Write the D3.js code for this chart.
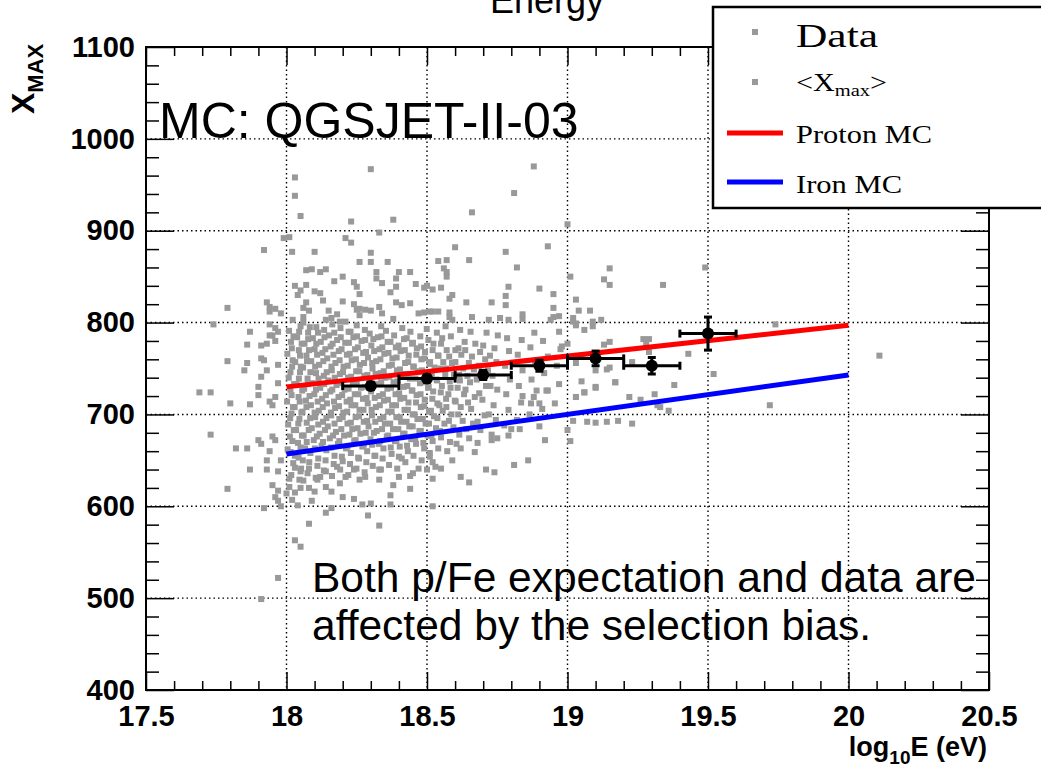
<!DOCTYPE html>
<html>
<head>
<meta charset="utf-8">
<script src="https://cdn.jsdelivr.net/npm/d3@7"></script>
<style>
  body { margin: 0; background: #fff; }
  svg { display: block; }
</style>
</head>
<body>
<div id="chart"></div>
<script>
// scattered events
const sparsePoints = [
  [18.03,958],[18.03,938],[18.05,916],[18.30,967],[18.23,910],[18.38,912],[18.33,898],[17.99,892],[18.01,893],
  [18.21,892],[18.23,887],[17.92,879],[18.02,877],[18.10,877],[18.30,876],[18.26,866],[18.30,866],[18.36,866],
  [18.07,857],[18.09,858],[18.12,855],[18.14,858],[18.32,855],[18.40,855],[18.44,855],[18.20,850],[18.17,845],
  [18.32,848],[18.34,843],[18.39,848],[18.24,844],[18.25,839],[18.26,831],[18.03,840],[18.07,841],[18.04,830],
  [18.05,835],[18.10,834],[18.12,832],[18.37,833],[18.39,839],[18.46,842],[18.49,838],[18.50,840],[17.79,816],
  [17.93,822],[17.94,817],[17.94,812],[17.96,815],[17.98,810],[18.07,822],[18.06,816],[18.08,813],[18.06,806],
  [18.13,824],[18.15,813],[18.14,803],[18.20,823],[18.18,809],[18.16,805],[18.19,801],[18.21,801],
  [18.24,820],[18.25,814],[18.26,808],[18.26,815],[18.28,814],[18.30,813],[18.33,817],[18.34,810],[18.38,804],
  [18.39,822],[18.41,819],[18.44,821],[18.47,810],[18.49,811],[18.52,812],[18.54,812],[17.74,798],
  [18.88,970],[18.81,941],[18.66,920],[19.00,907],[18.60,882],[18.93,883],[18.78,877],[18.54,867],[18.57,868],
  [18.65,868],[18.82,860],[18.56,859],[18.57,855],[18.57,850],[19.15,859],[19.01,850],[19.13,847],[19.15,841],
  [19.34,841],[18.52,836],[18.55,838],[18.59,830],[18.58,826],[18.79,839],[18.90,837],[18.95,831],[18.78,829],
  [18.78,819],[18.64,822],[18.73,822],[19.03,825],[19.04,813],[19.08,813],[18.95,816],[18.51,812],[18.58,811],
  [18.58,806],[18.59,803],[18.66,806],[18.72,803],[18.76,805],[18.79,803],[18.84,809],[18.84,804],[18.94,803],
  [18.95,806],[18.97,807],[19.02,805],[19.03,799],[19.06,792],[19.09,801],[19.12,803],[19.09,796],
  [19.49,860],[19.74,798],[19.43,766],[19.52,744],[20.11,764],[19.72,710],
  [19.02,801],[19.03,797],[18.97,790],[19.00,777],[18.98,774],[19.13,776],[19.15,779],[19.27,782],[19.29,782],
  [19.28,777],[19.29,768],[19.03,756],[19.10,748],[19.14,749],[19.15,751],[19.23,757],[19.17,735],[19.10,729],
  [19.03,719],[19.06,724],[19.05,736],[19.22,719],[19.26,716],[19.31,722],[19.38,732],[19.33,708],[19.36,704],
  [19.02,693],[19.07,692],[19.10,691],[19.14,692],[19.18,693],[19.23,690],[19.00,683],[19.01,671],[18.92,672],
  [18.86,650],[18.81,645],[18.74,637],[18.71,640],[18.65,626],[18.62,632],[18.55,641],[18.52,648],[18.59,650],
  [18.52,630],[18.52,600],[18.67,659],[18.62,663],[18.68,669],[18.73,672],[18.75,674],[18.79,677],[18.83,684],
  [18.80,684],[18.90,687],[18.87,712],[18.90,712],[18.89,726],[18.93,726],[18.84,720],[19.03,719],[19.06,724],
  [19.10,730],[19.17,735],[19.32,710],
  [17.69,724],[17.73,724],[17.80,712],[17.87,711],[17.90,721],[17.90,730],[17.73,678],[17.82,663],[17.86,663],
  [17.90,672],[17.91,668],[17.94,660],[17.96,672],[17.95,676],[17.93,650],[17.98,650],[17.87,640],[17.93,640],
  [17.97,638],[17.79,619],[17.95,623],[17.97,617],[17.96,610],[17.97,606],[17.98,600],[17.92,598],[17.94,714],
  [17.95,710],[17.96,719],[17.97,734],[17.87,790],[17.86,776],[17.91,775],[17.91,761],[17.93,777],[17.79,758],
  [17.86,756],[17.85,748],[17.94,798],[17.96,794],[17.95,786],[17.97,790],[17.96,780],[17.94,786],[17.92,759],
  [17.97,754],[17.93,748],[17.91,741],
  [18.01,621],[18.03,615],[18.00,614],[18.05,620],[18.08,620],[18.10,616],[18.14,621],[18.16,616],[18.20,610],
  [18.24,608],[18.27,602],[18.30,603],[18.29,590],[18.37,612],[18.37,602],[18.38,623],[18.44,619],[18.47,641],
  [18.44,633],[18.41,652],[18.08,581],[18.14,593],[18.16,598],[18.33,579],[18.03,563],[18.05,556],[17.97,522],
  [17.91,499],[18.05,638],[18.08,641],[18.11,629],[18.12,632],[18.14,638],[18.18,643],[18.21,632],[18.24,640],
  [18.19,625],[18.26,629],[18.28,632],[18.33,629],[18.33,640],[18.40,632],[18.45,636],[18.50,640],[18.53,643],
  [18.51,654],[18.02,607],[18.04,601],[18.01,630],[18.06,628],[18.03,642],[18.09,606]
];

// dense core of the cloud, where squares overlap: estimated
const densePoints = [
  [18.004,662],[18.012,676],[18.006,689],[18.018,701],[18.002,714],[18.014,727],[18.008,740],[18.02,752],[18.003,766],[18.016,779],[18.009,791],[18.022,803],
  [18.03,655],[18.041,669],[18.034,683],[18.046,695],[18.029,708],[18.043,719],[18.036,733],[18.048,746],[18.031,757],[18.044,770],[18.038,784],[18.05,796],
  [18.058,650],[18.066,663],[18.061,677],[18.072,691],[18.057,703],[18.069,715],[18.063,728],[18.075,739],[18.059,751],[18.071,764],[18.064,777],[18.077,789],[18.06,800],
  [18.085,658],[18.097,672],[18.09,685],[18.102,697],[18.087,710],[18.099,722],[18.092,734],[18.105,745],[18.088,758],[18.1,771],[18.094,783],[18.106,795],
  [18.113,652],[18.125,666],[18.118,679],[18.13,692],[18.115,704],[18.127,717],[18.12,729],[18.133,742],[18.116,754],[18.128,767],[18.122,779],[18.134,792],
  [18.142,661],[18.154,674],[18.147,687],[18.159,699],[18.144,712],[18.156,725],[18.149,737],[18.161,748],[18.145,761],[18.157,774],[18.151,786],[18.163,798],
  [18.171,655],[18.183,668],[18.176,681],[18.188,695],[18.173,707],[18.185,719],[18.178,732],[18.19,744],[18.174,756],[18.186,769],[18.18,781],[18.192,794],
  [18.2,649],[18.212,663],[18.205,677],[18.217,690],[18.202,702],[18.214,714],[18.207,727],[18.219,740],[18.203,752],[18.215,765],[18.209,778],[18.221,790],
  [18.229,658],[18.241,671],[18.234,684],[18.246,697],[18.231,710],[18.243,722],[18.236,734],[18.248,747],[18.232,759],[18.244,771],[18.238,784],[18.25,797],
  [18.258,652],[18.27,665],[18.263,679],[18.275,692],[18.26,705],[18.272,717],[18.265,729],[18.277,742],[18.261,754],[18.273,767],[18.267,780],[18.279,792],
  [18.287,660],[18.299,673],[18.292,687],[18.304,699],[18.289,712],[18.301,725],[18.294,737],[18.306,750],[18.29,762],[18.302,775],[18.296,788],
  [18.316,655],[18.328,668],[18.321,682],[18.333,695],[18.318,708],[18.33,720],[18.323,733],[18.335,745],[18.319,758],[18.331,771],[18.325,784],[18.337,796],
  [18.345,663],[18.357,676],[18.35,690],[18.362,703],[18.347,715],[18.359,728],[18.352,740],[18.364,753],[18.348,766],[18.36,779],[18.354,791],
  [18.374,657],[18.386,671],[18.379,684],[18.391,697],[18.376,710],[18.388,722],[18.381,735],[18.393,748],[18.377,761],[18.389,773],[18.383,786],
  [18.403,665],[18.415,679],[18.408,692],[18.42,705],[18.405,717],[18.417,730],[18.41,743],[18.422,756],[18.406,769],[18.418,782],[18.412,794],
  [18.432,660],[18.444,673],[18.437,687],[18.449,700],[18.434,713],[18.446,726],[18.439,739],[18.451,752],[18.435,764],[18.447,777],[18.441,790],
  [18.461,668],[18.473,682],[18.466,695],[18.478,708],[18.463,721],[18.475,734],[18.468,747],[18.48,760],[18.464,772],[18.476,785],
  [18.49,663],[18.502,677],[18.495,690],[18.507,703],[18.492,716],[18.504,729],[18.497,742],[18.509,755],[18.493,768],[18.505,781],[18.499,793],
  [18.52,671],[18.532,685],[18.525,698],[18.537,712],[18.522,725],[18.534,738],[18.527,751],[18.539,764],[18.523,777],[18.535,789],
  [18.55,675],[18.562,690],[18.556,704],[18.568,717],[18.553,731],[18.565,744],[18.558,757],[18.57,770],[18.554,783],[18.566,796],
  [18.582,670],[18.594,686],[18.587,700],[18.599,715],[18.584,729],[18.596,743],[18.589,756],[18.601,770],[18.585,785],
  [18.615,678],[18.627,693],[18.62,708],[18.632,722],[18.617,737],[18.629,750],[18.622,765],[18.634,779],[18.618,792],
  [18.65,674],[18.664,690],[18.657,706],[18.67,719],[18.653,735],[18.667,749],[18.66,763],[18.672,777],[18.655,790],
  [18.69,683],[18.705,699],[18.697,716],[18.71,731],[18.693,746],[18.707,760],[18.7,775],[18.712,789],
  [18.73,678],[18.745,694],[18.737,710],[18.75,727],[18.733,742],[18.747,757],[18.74,772],[18.752,786],
  [18.775,688],[18.79,705],[18.782,722],[18.795,738],[18.778,753],[18.792,769],[18.785,783],
  [18.82,694],[18.835,713],[18.827,731],[18.84,748],[18.823,765],[18.837,781],
  [18.865,700],[18.88,719],[18.872,738],[18.885,756],[18.868,773],[18.882,789],
  [18.91,706],[18.925,726],[18.917,745],[18.93,763],[18.913,780],
  [18.955,712],[18.97,733],[18.962,753],[18.975,771]
];

// second, offset layer of the core: estimated
const densePoints2 = [
  [18.017,634],[18.024,647],[18.015,659],[18.021,671],[18.026,683],[18.013,696],[18.023,708],[18.018,721],[18.027,733],[18.014,746],[18.022,759],[18.019,772],[18.025,785],
  [18.046,629],[18.052,641],[18.043,653],[18.05,664],[18.055,677],[18.042,690],[18.053,702],[18.047,714],[18.056,726],[18.044,739],[18.051,752],[18.048,764],[18.054,777],[18.045,790],
  [18.075,636],[18.081,648],[18.072,670],[18.079,683],[18.084,696],[18.071,708],[18.082,720],[18.076,733],[18.085,746],[18.073,758],[18.08,770],[18.077,782],[18.083,795],
  [18.104,631],[18.11,644],[18.101,663],[18.108,676],[18.113,689],[18.1,702],[18.111,714],[18.105,727],[18.114,739],[18.102,752],[18.109,765],[18.106,777],[18.112,789],
  [18.133,639],[18.139,650],[18.13,670],[18.137,683],[18.142,696],[18.129,708],[18.14,721],[18.134,733],[18.143,746],[18.131,758],[18.138,771],[18.135,784],
  [18.162,633],[18.168,646],[18.159,664],[18.166,677],[18.171,690],[18.158,702],[18.169,714],[18.163,727],[18.172,740],[18.16,752],[18.167,765],[18.164,777],[18.17,789],
  [18.191,640],[18.197,654],[18.188,671],[18.195,684],[18.2,697],[18.187,709],[18.198,721],[18.192,734],[18.201,746],[18.189,759],[18.196,771],[18.193,784],
  [18.22,634],[18.226,646],[18.217,665],[18.224,678],[18.229,691],[18.216,703],[18.227,716],[18.221,728],[18.23,741],[18.218,753],[18.225,766],[18.222,778],[18.228,790],
  [18.249,641],[18.255,653],[18.246,672],[18.253,685],[18.258,698],[18.245,710],[18.256,722],[18.25,735],[18.259,747],[18.247,760],[18.254,773],[18.251,785],
  [18.278,637],[18.284,648],[18.275,667],[18.282,680],[18.287,693],[18.274,705],[18.285,718],[18.279,730],[18.288,743],[18.276,756],[18.283,768],[18.28,781],
  [18.307,644],[18.313,655],[18.304,667],[18.311,680],[18.316,692],[18.303,705],[18.314,718],[18.308,731],[18.317,744],[18.305,756],[18.312,769],[18.309,782],
  [18.336,640],[18.342,652],[18.333,671],[18.34,684],[18.345,697],[18.332,710],[18.343,722],[18.337,735],[18.346,747],[18.334,760],[18.341,773],[18.338,785],
  [18.365,645],[18.371,664],[18.362,677],[18.369,690],[18.374,703],[18.361,716],[18.372,729],[18.366,741],[18.375,754],[18.363,767],[18.37,779],
  [18.394,641],[18.4,654],[18.391,671],[18.398,684],[18.403,697],[18.39,710],[18.401,723],[18.395,736],[18.404,749],[18.392,762],[18.399,775],
  [18.423,648],[18.429,666],[18.42,679],[18.427,692],[18.432,705],[18.419,718],[18.43,731],[18.424,744],[18.433,757],[18.421,770],[18.428,783],
  [18.452,655],[18.458,674],[18.449,687],[18.456,700],[18.461,713],[18.448,726],[18.459,739],[18.453,752],[18.462,765],[18.45,778],
  [18.481,650],[18.487,669],[18.478,682],[18.485,695],[18.49,709],[18.477,722],[18.488,735],[18.482,748],[18.491,761],[18.479,774],
  [18.51,658],[18.516,677],[18.507,690],[18.514,704],[18.519,717],[18.506,730],[18.517,743],[18.511,757],[18.52,770],
  [18.54,663],[18.546,682],[18.537,696],[18.544,710],[18.549,724],[18.536,737],[18.547,750],[18.541,764],[18.55,777],
  [18.572,660],[18.578,693],[18.569,708],[18.576,722],[18.581,736],[18.568,750],[18.579,763],
  [18.605,668],[18.611,700],[18.602,714],[18.609,729],[18.614,743],[18.601,757],[18.612,772],
  [18.64,684],[18.646,713],[18.637,727],[18.644,742],[18.649,756],[18.636,770],
  [18.68,692],[18.686,723],[18.677,738],[18.684,753],[18.689,768],
  [18.72,700],[18.726,731],[18.717,748],[18.724,764]
];

// <Xmax> per energy bin
const binCenters = [18.3, 18.5, 18.7, 18.9, 19.1, 19.3, 19.5];
const binHalfWidth = [0.1, 0.1, 0.1, 0.1, 0.1, 0.1, 0.1];
const meanXmax = [731, 739, 743, 753, 761, 753, 788];
const meanErr = [4, 4, 5, 6, 8, 9, 18];

// MC expectations
const protonE = [18, 20];
const protonXmax = [730, 797];
const ironE = [18, 20];
const ironXmax = [657, 743];

const xMajorTicks = [17.5, 18, 18.5, 19, 19.5, 20, 20.5];
const yMajorTicks = [400, 500, 600, 700, 800, 900, 1000, 1100];

const W = 1041, H = 771;
const frame = { left: 146, right: 989, top: 47, bottom: 690 };
const sans = "'Liberation Sans', Arial, Helvetica, sans-serif";
const serif = "'Liberation Serif', 'Times New Roman', serif";

const svg = d3.select("#chart").append("svg")
  .attr("width", W)
  .attr("height", H)
  .style("background", "#fff");

const x = d3.scaleLinear().domain([17.5, 20.5]).range([frame.left, frame.right]);
const y = d3.scaleLinear().domain([400, 1100]).range([frame.bottom, frame.top]);

const xMinor = d3.range(17.5, 20.501, 0.1).map(v => +v.toFixed(1)).filter(v => !xMajorTicks.includes(v));
const yMinor = d3.range(400, 1101, 20).filter(v => !yMajorTicks.includes(v));

// dotted grid
const grid = svg.append("g")
  .attr("stroke", "#000")
  .attr("stroke-width", 1.4)
  .attr("stroke-dasharray", "1.5,3");
grid.selectAll(".gx")
  .data(xMajorTicks.filter(v => v > 17.5 && v < 20.5))
  .enter().append("line")
  .attr("x1", d => x(d)).attr("x2", d => x(d))
  .attr("y1", frame.top).attr("y2", frame.bottom);
grid.selectAll(".gy")
  .data(yMajorTicks.filter(v => v > 400 && v < 1100))
  .enter().append("line")
  .attr("x1", frame.left).attr("x2", frame.right)
  .attr("y1", d => y(d)).attr("y2", d => y(d));

// event scatter
const sq = 6;
svg.append("g")
  .selectAll("rect")
  .data(densePoints.concat(densePoints2, sparsePoints))
  .enter().append("rect")
  .attr("x", d => x(d[0]) - sq / 2)
  .attr("y", d => y(d[1]) - sq / 2)
  .attr("width", sq)
  .attr("height", sq)
  .attr("fill", "#999999");

// MC lines
const line = d3.line().x(d => x(d[0])).y(d => y(d[1]));
svg.append("path")
  .attr("d", line(protonE.map((e, i) => [e, protonXmax[i]])))
  .attr("stroke", "#ff0000").attr("stroke-width", 5).attr("fill", "none");
svg.append("path")
  .attr("d", line(ironE.map((e, i) => [e, ironXmax[i]])))
  .attr("stroke", "#0000ff").attr("stroke-width", 5).attr("fill", "none");

// <Xmax> with error bars
const means = binCenters.map((e, i) => ({ e, hw: binHalfWidth[i], v: meanXmax[i], err: meanErr[i] }));
const mg = svg.append("g").attr("stroke", "#000").attr("stroke-width", 3);
const cap = 4;
means.forEach(d => {
  mg.append("line")
    .attr("x1", x(d.e - d.hw)).attr("x2", x(d.e + d.hw))
    .attr("y1", y(d.v)).attr("y2", y(d.v));
  mg.append("line")
    .attr("x1", x(d.e - d.hw)).attr("x2", x(d.e - d.hw))
    .attr("y1", y(d.v) - cap).attr("y2", y(d.v) + cap);
  mg.append("line")
    .attr("x1", x(d.e + d.hw)).attr("x2", x(d.e + d.hw))
    .attr("y1", y(d.v) - cap).attr("y2", y(d.v) + cap);
  mg.append("line")
    .attr("x1", x(d.e)).attr("x2", x(d.e))
    .attr("y1", y(d.v + d.err)).attr("y2", y(d.v - d.err));
  mg.append("line")
    .attr("x1", x(d.e) - cap).attr("x2", x(d.e) + cap)
    .attr("y1", y(d.v + d.err)).attr("y2", y(d.v + d.err));
  mg.append("line")
    .attr("x1", x(d.e) - cap).attr("x2", x(d.e) + cap)
    .attr("y1", y(d.v - d.err)).attr("y2", y(d.v - d.err));
});
svg.append("g").selectAll("circle")
  .data(means)
  .enter().append("circle")
  .attr("cx", d => x(d.e))
  .attr("cy", d => y(d.v))
  .attr("r", 6)
  .attr("fill", "#000");

// axes: ticks drawn inside the frame on all four sides
function styleAxis(g) {
  g.select(".domain").remove();
  g.selectAll(".tick line").attr("stroke", "#000").attr("stroke-width", 1.5);
}
svg.append("g")
  .attr("transform", `translate(0,${frame.bottom})`)
  .call(d3.axisBottom(x).tickValues(xMajorTicks).tickSize(-18).tickPadding(15).tickFormat(d3.format("")))
  .call(styleAxis)
  .call(g => g.selectAll("text")
    .attr("fill", "#000")
    .style("font-family", sans).style("font-weight", "bold").style("font-size", "29px"));
svg.append("g")
  .attr("transform", `translate(0,${frame.bottom})`)
  .call(d3.axisBottom(x).tickValues(xMinor).tickSize(-9).tickFormat(""))
  .call(styleAxis);
svg.append("g")
  .attr("transform", `translate(0,${frame.top})`)
  .call(d3.axisTop(x).tickValues(xMajorTicks).tickSize(-18).tickFormat(""))
  .call(styleAxis);
svg.append("g")
  .attr("transform", `translate(0,${frame.top})`)
  .call(d3.axisTop(x).tickValues(xMinor).tickSize(-9).tickFormat(""))
  .call(styleAxis);

svg.append("g")
  .attr("transform", `translate(${frame.left},0)`)
  .call(d3.axisLeft(y).tickValues(yMajorTicks).tickSize(-28).tickPadding(11).tickFormat(d3.format("d")))
  .call(styleAxis)
  .call(g => g.selectAll("text")
    .attr("fill", "#000")
    .style("font-family", sans).style("font-weight", "bold").style("font-size", "29px"));
svg.append("g")
  .attr("transform", `translate(${frame.left},0)`)
  .call(d3.axisLeft(y).tickValues(yMinor).tickSize(-13).tickFormat(""))
  .call(styleAxis);
svg.append("g")
  .attr("transform", `translate(${frame.right},0)`)
  .call(d3.axisRight(y).tickValues(yMajorTicks).tickSize(-28).tickFormat(""))
  .call(styleAxis);
svg.append("g")
  .attr("transform", `translate(${frame.right},0)`)
  .call(d3.axisRight(y).tickValues(yMinor).tickSize(-13).tickFormat(""))
  .call(styleAxis);

svg.append("rect")
  .attr("x", frame.left).attr("y", frame.top)
  .attr("width", frame.right - frame.left).attr("height", frame.bottom - frame.top)
  .attr("fill", "none").attr("stroke", "#000").attr("stroke-width", 2);

// axis titles
const yTitle = svg.append("text")
  .attr("transform", "translate(34,114) rotate(-90)")
  .style("font-family", sans).style("font-weight", "bold").attr("fill", "#000");
yTitle.append("tspan").style("font-size", "32px").text("X");
yTitle.append("tspan").style("font-size", "22px").attr("dy", 9).text("MAX");

const xTitle = svg.append("text")
  .attr("x", 987).attr("y", 756)
  .attr("text-anchor", "end")
  .style("font-family", sans).style("font-weight", "bold").attr("fill", "#000");
xTitle.append("tspan").style("font-size", "27px").text("log");
xTitle.append("tspan").style("font-size", "19px").attr("dy", 8).text("10");
xTitle.append("tspan").style("font-size", "27px").attr("dy", -8).text("E (eV)");

// annotations
svg.append("text")
  .attr("x", 159).attr("y", 138)
  .style("font-family", sans).style("font-size", "50px").attr("fill", "#000")
  .text("MC: QGSJET-II-03");
svg.append("text")
  .attr("x", 312).attr("y", 592)
  .style("font-family", sans).style("font-size", "42.5px").attr("fill", "#000")
  .text("Both p/Fe expectation and data are");
svg.append("text")
  .attr("x", 312).attr("y", 640)
  .style("font-family", sans).style("font-size", "42.5px").attr("fill", "#000")
  .text("affected by the selection bias.");

// cut-off title at the top edge
svg.append("text")
  .attr("x", 604).attr("y", 13)
  .attr("text-anchor", "end")
  .style("font-family", sans).style("font-size", "36px").attr("fill", "#000")
  .text("Energy");

// legend
const lg = svg.append("g");
lg.append("rect")
  .attr("x", 713).attr("y", 7).attr("width", 360).attr("height", 201)
  .attr("fill", "#fff").attr("stroke", "#000").attr("stroke-width", 2.5);
lg.append("rect").attr("x", 755 - sq / 2).attr("y", 32 - sq / 2).attr("width", sq).attr("height", sq).attr("fill", "#999999");
lg.append("rect").attr("x", 755 - sq / 2).attr("y", 82 - sq / 2).attr("width", sq).attr("height", sq).attr("fill", "#999999");
lg.append("line").attr("x1", 727).attr("x2", 783).attr("y1", 133).attr("y2", 133)
  .attr("stroke", "#ff0000").attr("stroke-width", 5);
lg.append("line").attr("x1", 727).attr("x2", 783).attr("y1", 182).attr("y2", 182)
  .attr("stroke", "#0000ff").attr("stroke-width", 5);
lg.append("text").attr("x", 796).attr("y", 47)
  .attr("textLength", 82).attr("lengthAdjust", "spacingAndGlyphs")
  .style("font-family", serif).style("font-size", "34px").attr("fill", "#000").text("Data");
const xm = lg.append("text").attr("x", 796).attr("y", 91)
  .attr("textLength", 91).attr("lengthAdjust", "spacingAndGlyphs")
  .style("font-family", serif).style("font-size", "25px").attr("fill", "#000");
xm.append("tspan").text("<X");
xm.append("tspan").style("font-size", "17px").attr("dy", 5).text("max");
xm.append("tspan").attr("dy", -5).text(">");
lg.append("text").attr("x", 796).attr("y", 143)
  .attr("textLength", 136).attr("lengthAdjust", "spacingAndGlyphs")
  .style("font-family", serif).style("font-size", "25px").attr("fill", "#000").text("Proton MC");
lg.append("text").attr("x", 796).attr("y", 193)
  .attr("textLength", 106).attr("lengthAdjust", "spacingAndGlyphs")
  .style("font-family", serif).style("font-size", "25px").attr("fill", "#000").text("Iron MC");
</script>
</body>
</html>
